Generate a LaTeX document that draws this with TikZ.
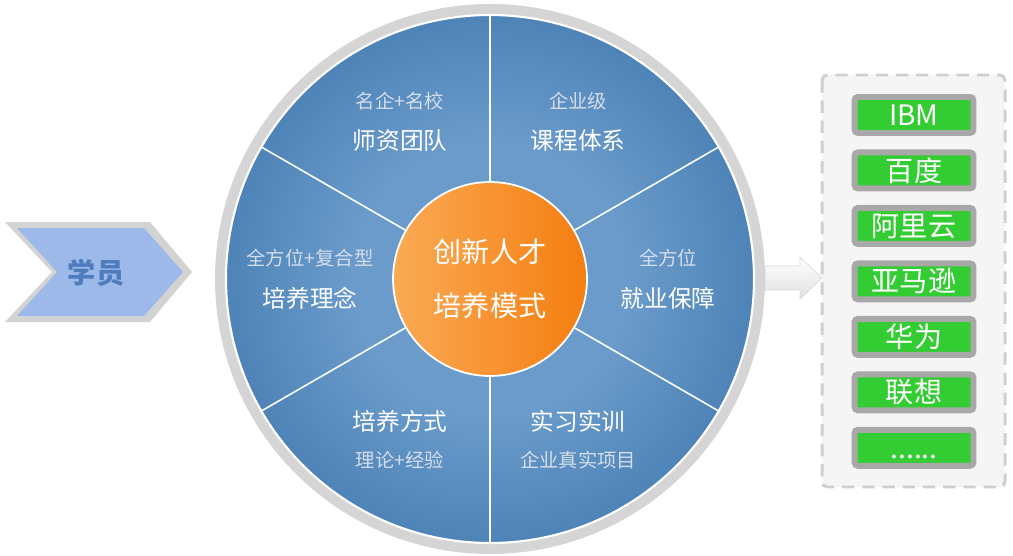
\documentclass[tikz,border=0pt]{standalone}
\usepackage{fontspec}
\newfontfamily\cjk{Noto Sans CJK SC}
\usepackage{xcolor}
\definecolor{wheelin}{HTML}{6A9BCB}
\definecolor{wheelout}{HTML}{3A72A9}
\definecolor{ringgray}{HTML}{D5D5D5}
\definecolor{softtext}{HTML}{D3DEEA}
\definecolor{orangelt}{HTML}{FAAA55}
\definecolor{orangedk}{HTML}{F57E10}
\definecolor{chevfill}{HTML}{9DB9E9}
\definecolor{chevedge}{HTML}{D3D3D3}
\definecolor{chevtext}{HTML}{4E7CBD}
\definecolor{boxgreen}{HTML}{33CC33}
\definecolor{boxedge}{HTML}{A8A8A8}
\definecolor{panelfill}{HTML}{F5F5F5}
\definecolor{paneledge}{HTML}{CFCFCF}
\definecolor{arrowedge}{HTML}{D9D9D9}
\usepackage{tikz}
\usetikzlibrary{positioning, calc}
\pgfdeclareradialshading{wheelshade}{\pgfpoint{0bp}{0bp}}{color(0bp)=(wheelin); color(13bp)=(wheelin); color(34bp)=(wheelout); color(50bp)=(wheelout)}

\begin{document}
\begin{tikzpicture}[
  x=0.02cm, y=0.02cm,
  font=\cjk,
  spoke/.style={draw=white, line width=0.9pt},
  headtext/.style={text=white, font=\cjk\fontsize{13.5}{16}\selectfont},
  subtext/.style={text=softtext, font=\cjk\fontsize{11}{13}\selectfont},
  corpbox/.style={
    draw=boxedge, fill=boxgreen, line width=3.4pt, rounded corners=2pt,
    minimum width=2.38cm, minimum height=0.72cm, inner sep=0pt,
    text=white, font=\cjk\fontsize{16}{19}\selectfont
  }
]
  \useasboundingbox (0,0) rectangle (1013,555);
  \fill[white] (0,0) rectangle (1013,555);

  % learner chevron
  \fill[chevedge] (5,333) -- (150,333) -- (192,283) -- (150,233) -- (5,233) -- (52,283) -- cycle;
  \fill[chevfill] (17,327) -- (144,327) -- (183,283) -- (144,239) -- (17,239) -- (57,283) -- cycle;
  \node[text=chevtext, font=\cjk\bfseries\fontsize{16}{19}\selectfont] (learner) at (96,282) {学员};

  % wheel
  \coordinate (hub) at (490,276);
  \fill[ringgray] (hub) circle (275);
  \shadedraw[shading=wheelshade, draw=white, line width=1.2pt] (hub) circle (264);
  \node[circle, draw=white, line width=1pt, left color=orangelt, right color=orangedk,
    minimum size=3.88cm, align=center, text=white,
    font=\cjk\fontsize{16}{31}\selectfont] (core) at (hub) {创新人才\\培养模式};
  \foreach \a in {30,90,...,330}
    \draw[spoke] (core.\a) -- ($(hub)+(\a:263)$);

  \node[subtext]  (teamsub)  at (400,454) {名企+名校};
  \node[headtext] (team)     at (400,414) {师资团队};
  \node[subtext]  (coursesub) at (578,454) {企业级};
  \node[headtext] (course)   at (578,414) {课程体系};
  \node[subtext]  (ideasub)  at (310,297) {全方位+复合型};
  \node[headtext] (idea)     at (310,257) {培养理念};
  \node[subtext]  (jobsub)   at (668,297) {全方位};
  \node[headtext] (job)      at (668,257) {就业保障};
  \node[headtext] (method)   at (400,134) {培养方式};
  \node[subtext]  (methodsub) at (400,95) {理论+经验};
  \node[headtext] (intern)   at (578,134) {实习实训};
  \node[subtext]  (internsub) at (578,95) {企业真实项目};

  % flow arrow into the company panel
  \shadedraw[top color=white, bottom color=black!12, draw=arrowedge, line width=0.4pt]
    (765,265) -- (800,265) -- (800,256) -- (822,277) -- (800,298) -- (800,289) -- (765,289) -- cycle;

  % company panel
  \draw[paneledge, fill=panelfill, line width=1.7pt, dash pattern=on 7pt off 4.5pt,
    rounded corners=3pt] (822,480) rectangle (1005,68);
  \node[corpbox] at (914,440) (cibm) {IBM};
  \node[corpbox, below=0.27cm of cibm]    (cbaidu)  {百度};
  \node[corpbox, below=0.27cm of cbaidu]  (cali)    {阿里云};
  \node[corpbox, below=0.27cm of cali]    (camazon) {亚马逊};
  \node[corpbox, below=0.27cm of camazon] (chuawei) {华为};
  \node[corpbox, below=0.27cm of chuawei] (clenovo) {联想};
  \node[corpbox, below=0.27cm of clenovo] (cmore)   {\vphantom{联}......};
\end{tikzpicture}
\end{document}
